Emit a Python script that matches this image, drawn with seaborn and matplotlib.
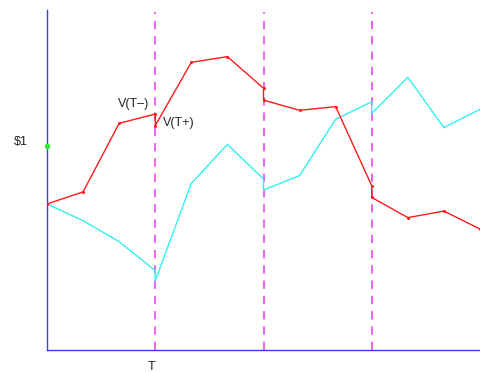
import matplotlib
matplotlib.use("Agg")
import matplotlib.pyplot as plt
import seaborn as sns
import pandas as pd

# Time steps; the value jumps at each reset date, so those steps appear twice
steps = [0, 1, 2, 3, 3, 4, 5, 6, 6, 7, 8, 9, 9, 10, 11, 12]

# Portfolio value paths (in dollars)
red_path = [0.716, 0.775, 1.111, 1.157, 1.100, 1.410, 1.438, 1.283,
            1.225, 1.175, 1.193, 0.805, 0.748, 0.649, 0.681, 0.593]
cyan_path = [0.716, 0.634, 0.531, 0.389, 0.340, 0.817, 1.008, 0.838,
             0.784, 0.855, 1.131, 1.217, 1.160, 1.337, 1.090, 1.180]

reset_dates = [3, 6, 9]
start_value = 1.0
start_label = "$1"
reset_label = "T"
before_label = "V(T\u2013)"
after_label = "V(T+)"

sns.set_theme(style="white")
plt.rcParams["font.family"] = ["Liberation Sans", "DejaVu Sans"]
plt.rcParams["lines.scale_dashes"] = False

fig = plt.figure(figsize=(4.8, 3.72), dpi=100)
ax = fig.add_axes([47 / 480, 22 / 372, 433 / 480, 340 / 372])

df_red = pd.DataFrame({"t": steps, "v": red_path})
df_cyan = pd.DataFrame({"t": steps, "v": cyan_path})

for d in reset_dates:
    ax.axvline(d, color="#ee55ee", lw=1.3, dashes=(6, 5), zorder=1,
               ymax=338 / 340)

sns.lineplot(data=df_cyan, x="t", y="v", sort=False, estimator=None,
             color="#33f0f0", lw=1.0, ax=ax, zorder=2)
sns.lineplot(data=df_red, x="t", y="v", sort=False, estimator=None,
             color="#ff1a1a", lw=1.0, marker="o", markersize=2.2,
             markeredgewidth=0, ax=ax, zorder=3)

ax.plot([0], [start_value], marker="o", markersize=4, color="#33ee33",
        markeredgewidth=0, zorder=4, clip_on=False)

ax.set_xlim(0, 12)
ax.set_ylim(0, 340 / 204)
ax.set_xticks([])
ax.set_yticks([])
ax.set_xlabel("")
ax.set_ylabel("")

for side in ("top", "right"):
    ax.spines[side].set_visible(False)
for side in ("left", "bottom"):
    ax.spines[side].set_color("#3a3aff")
    ax.spines[side].set_linewidth(1.0)

txt = dict(fontsize=9, color="#222222")
ax.text(-0.72, 1.022, start_label, ha="center", va="center", **txt)
ax.text(2.89, -0.083, reset_label, ha="center", va="center", **txt)
ax.text(2.39, 1.206, before_label, ha="center", va="center", **txt)
ax.text(3.65, 1.114, after_label, ha="center", va="center", **txt)

fig.savefig("out.png", dpi=100)
